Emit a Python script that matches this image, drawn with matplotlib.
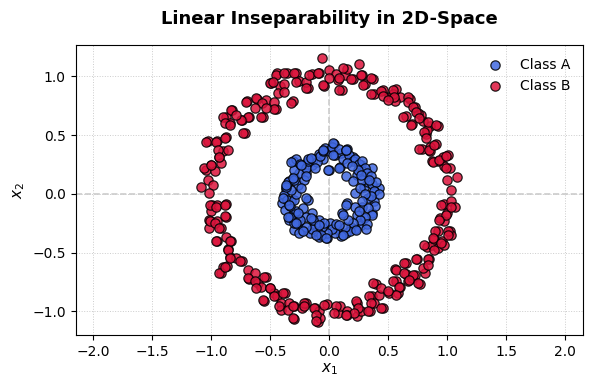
import matplotlib.pyplot as plt
import numpy as np

# Class A: inner ring
xa = [0.042, -0.038, 0.154, -0.086, -0.31, -0.28, -0.23, -0.15, -0.006, 0.09, 0.2, 0.266, 0.362,
      0.282, 0.234, 0.138, -0.198, -0.295, -0.34, -0.263, -0.215, -0.365, -0.384, -0.397, -0.327,
      -0.182, -0.375, -0.295, -0.343, -0.263, -0.295, -0.23, -0.166, -0.086, -0.022, -0.15, -0.086,
      0.01, 0.074, 0.138, 0.186, 0.266, 0.298, 0.234, 0.362, 0.282, 0.378, 0.33, 0.426, 0.378,
      0.298, 0.218, 0.202, 0.154, 0.106, 0.218,
      0.0, 0.05, -0.05, 0.1, 0.12, 0.17, 0.2, 0.22, 0.25, 0.28, 0.3, 0.32, 0.35, 0.33, 0.36, 0.4,
      0.38, 0.42, 0.35, 0.39, 0.33, 0.36, 0.3, 0.32, 0.26, 0.22, 0.18, 0.2, 0.13, 0.1, 0.05, 0.02,
      -0.02, -0.06, -0.1, -0.12, -0.15, -0.2, -0.2, -0.25, -0.28, -0.3, -0.33, -0.36, -0.3, -0.28,
      -0.32, -0.35, -0.3, -0.26, -0.3, -0.25, -0.2, -0.18, -0.14, -0.1, -0.08, -0.05, 0.02, 0.08,
      0.15, 0.24, 0.28, 0.26, 0.3, 0.28, 0.25, 0.16, 0.06, -0.04, -0.14, -0.22, -0.24, -0.2, -0.12,
      0.14, 0.19, 0.31, 0.34, 0.23, -0.37, -0.33, -0.26, -0.18, -0.07, 0.03, 0.12, 0.27, -0.35,
      -0.323, -0.238, -0.153, -0.055, 0.03, -0.013, -0.308, -0.365, -0.393, -0.337, -0.196, -0.267,
      -0.28, -0.224, -0.111, -0.026, -0.083, -0.153, 0.086, 0.114, 0.143, 0.086, 0.143]
ya = [0.425, 0.388, 0.38, 0.34, 0.275, 0.295, 0.246, 0.246, 0.204, 0.232, 0.317, 0.246, 0.218,
      0.19, 0.161, 0.153, 0.176, 0.147, 0.105, 0.076, 0.119, 0.04, -0.008, -0.079, -0.065,
      -0.051, -0.136, -0.164, -0.221, -0.255, -0.306, -0.306, -0.334, -0.363, -0.377, -0.164, -0.221,
      -0.249, -0.306, -0.334, -0.278, -0.263, -0.207, -0.178, -0.164, -0.108, -0.065, -0.037, 0.048,
      0.028, 0.062, 0.006, 0.105, -0.079, -0.164, -0.108,
      0.36, 0.33, 0.3, 0.35, 0.3, 0.33, 0.28, 0.3, 0.25, 0.28, 0.22, 0.18, 0.15, 0.1, 0.08, 0.1,
      0.02, 0.0, -0.02, -0.1, -0.12, -0.18, -0.2, -0.26, -0.22, -0.3, -0.32, -0.25, -0.28, -0.36,
      -0.33, -0.3, -0.33, -0.28, -0.32, -0.26, -0.3, -0.28, -0.2, -0.22, -0.15, -0.25, -0.1, -0.05,
      -0.05, 0.0, 0.03, 0.1, 0.12, 0.18, 0.2, 0.25, 0.22, 0.28, 0.3, 0.27, 0.32, 0.36, 0.4, 0.38,
      0.26, 0.2, 0.12, 0.05, 0.0, -0.06, -0.15, -0.22, -0.26, -0.25, -0.22, -0.12, 0.05, 0.15, 0.22,
      0.37, 0.24, -0.3, 0.12, -0.31, 0.06, -0.2, -0.33, 0.3, -0.35, 0.33, -0.35, 0.16, -0.2,
      0.274, 0.246, 0.303, 0.374, 0.43, 0.204, 0.133, 0.076, -0.037, -0.093, -0.037, -0.164,
      -0.249, -0.32, -0.348, -0.376, -0.263, -0.206, -0.263, -0.178, -0.093, 0.218, 0.374]

# Class B: outer ring
xb = [-0.06, 0.25, -0.439, -0.36, -0.28, -0.15, -0.09, 0.0, 0.06, 0.13, 0.15, 0.2, 0.28, 0.37,
      0.3, 0.11, -0.045, -0.18, -0.26, -0.42, -0.49, -0.31, -0.455, -0.535, -0.615, -0.695,
      -0.557, -0.68, -0.743, -0.82, -0.877, -0.84, -0.71, -0.877, -1.03, -0.95, -0.9, -0.935,
      -0.92, -1.0, -1.04, -0.967, -1.025, -0.983, -1.09, -1.015, -0.993, -0.95, -0.877, -0.999,
      -1.015, -0.95, -0.877, -1.015, -0.92, -0.95, -0.877, -0.83, -0.855, -0.845, -0.79, -0.743,
      -0.9, -0.87, -0.92, -0.685, -0.68, -0.63, -0.6, -0.58, -0.535, -0.503, -0.47, -0.44, -0.55,
      -0.407, -0.375, -0.343, -0.295, -0.295, -0.407, -0.23, -0.2, -0.118, -0.086, -0.096, -0.077,
      -0.022, 0.074, 0.09, 0.147, 0.154, 0.234, 0.266, 0.234, 0.346, 0.362, 0.426, 0.378, 0.458,
      0.394, 0.506, 0.57, 0.586, 0.602, 0.554, 0.65, 0.65, 0.666, 0.698, 0.73, 0.768, 0.746, 0.81,
      0.842, 0.826, 0.874, 0.89, 0.922, 0.954, 0.97, 0.922, 0.97, 0.938, 1.025, 1.034, 1.0, 0.97,
      1.034, 1.066, 1.034, 1.082, 1.0, 1.02, 0.97, 1.01, 0.96, 0.922, 0.874, 0.906, 0.858, 0.858,
      0.788, 0.922, 0.858, 0.82, 0.826, 0.794, 0.778, 0.704, 0.755, 0.723, 0.682, 0.65, 0.602,
      0.57, 0.554, 0.506, 0.458, 0.378, 0.538, -0.384, -0.006, 0.074,
      -0.45, -0.379, -0.295, -0.28, -0.196, -0.2, -0.168, -0.097, -0.055, -0.506, -0.478, -0.436,
      -0.379, -0.464, -0.464, -0.323, -0.619, -0.568, -0.534, -0.704, -0.633, -0.69, -0.577,
      -0.746, -0.831, -0.788, -0.902, -0.887, -0.845, -0.727, -1.042, -0.958, -0.887, -0.944,
      -0.859, -0.93, -1.057, -1.0,
      0.114, 0.086, 0.185, 0.27, 0.284, 0.355, 0.086, 0.355, 0.44, 0.453, 0.538, 0.552, 0.495,
      0.665, 0.665, 0.707, 0.736, 0.628, 0.693, 0.764, 0.834, 0.905, 0.806, 0.82, 0.764, 0.848,
      0.891, 0.876, 0.933, 0.99, 0.99,
      -1.014, -0.958, -0.887, -0.887, -1.014, -0.972, -0.93, -0.958, -0.845, -0.859, -0.845,
      -0.76, -0.93, -0.887, -0.69, -0.633, -0.619, -0.549, -0.506, -0.464, -0.394, -0.563,
      -0.422, -0.351, -0.309, -0.309, -0.21, -0.21, -0.125, -0.111, -0.111, -0.041,
      0.947, 1.032, 0.99, 0.933, 1.003, 1.003, 0.899, 0.876, 0.806, 0.891, 0.947, 0.834, 0.736,
      0.792, 0.834, 0.637, 0.566, 0.637, 0.707, 0.679, 0.749, 0.538, 0.594, 0.566, 0.368, 0.44,
      0.495, 0.34, 0.355, 0.44, 0.326, 0.228, 0.241, 0.213, 0.143, 0.058, 0.044]
yb = [1.153, 1.105, 1.025, 1.03, 1.025, 1.02, 1.03, 1.05, 1.02, 1.01, 1.06, 0.975, 1.01, 0.98,
      0.93, 0.88, 0.92, 0.9, 0.955, 0.92, 0.94, 0.785, 0.72, 0.8, 0.81, 0.785,
      0.65, 0.657, 0.63, 0.714, 0.657, 0.6, 0.516, 0.48, 0.445, 0.445, 0.36, 0.317,
      0.26, 0.246, 0.204, 0.19, 0.119, 0.076, 0.062, 0.011, -0.093, -0.093, -0.085, -0.142,
      -0.221, -0.235, -0.193, -0.292, -0.292, -0.405, -0.368, -0.397, -0.47, -0.533, -0.547, -0.575,
      -0.618, -0.612, -0.674, -0.646, -0.725, -0.669, -0.754, -0.788, -0.703, -0.799, -0.844, -0.867, -0.915,
      -0.93, -0.844, -0.93, -0.952, -1.065, -0.986, -0.972, -0.93, -0.972, -1.0, -1.093, -1.057,
      -0.935, -1.014, -0.952, -1.0, -1.028, -1.042, -1.0, -0.93, -1.0, -0.872, -0.858, -0.93, -0.972,
      -0.765, -0.839, -0.745, -0.844, -0.788, -0.64, -0.589, -0.68, -0.745, -0.717, -0.688, -0.765, -0.555, -0.674,
      -0.555, -0.448, -0.433, -0.385, -0.462, -0.397, -0.433, -0.312, -0.227, -0.207, -0.32, -0.348, -0.164, -0.085,
      -0.065, -0.108, 0.034, 0.142, 0.119, 0.218, 0.238, 0.331, 0.317, 0.275, 0.275, 0.425, 0.402, 0.36,
      0.38, 0.578, 0.578, 0.51, 0.544, 0.615, 0.671, 0.595, 0.69, 0.742, 0.805, 0.663, 0.822,
      0.89, 0.785, 0.827, 0.884, 0.85, 0.85, 0.935, 0.983, 0.969,
      1.011, 1.025, 1.025, 0.954, 0.954, 0.898, 1.011, 1.025, 0.926, 0.94, 0.954, 0.855,
      0.869, 0.784, 0.72, 0.776, 0.813, 0.776, 0.728, 0.784, 0.728, 0.657, 0.657,
      0.629, 0.714, 0.671, 0.657, 0.6, 0.586, 0.521, 0.444, 0.444, 0.473, 0.374,
      0.374, 0.317, 0.218, 0.246,
      1.068, 0.983, 0.974, 1.011, 0.926, 0.983, 0.884, 0.85, 0.878, 0.833, 0.884, 0.827, 0.799,
      0.827, 0.784, 0.742, 0.699, 0.657, 0.586, 0.643, 0.614, 0.586, 0.529, 0.473, 0.38, 0.374,
      0.416, 0.274, 0.289, 0.323, 0.218,
      -0.093, -0.108, -0.093, -0.187, -0.235, -0.249, -0.291, -0.405, -0.405, -0.476, -0.546,
      -0.575, -0.674, -0.618, -0.716, -0.745, -0.801, -0.703, -0.801, -0.872, -0.844, -0.9,
      -0.957, -0.986, -1.056, -0.957, -0.929, -0.957, -0.971, -1.028, -1.085, -0.943,
      -0.093, -0.108, -0.178, -0.221, -0.32, -0.348, -0.312, -0.376, -0.433, -0.476, -0.419, -0.555, -0.555,
      -0.631, -0.603, -0.589, -0.646, -0.674, -0.688, -0.731, -0.759, -0.745, -0.788, -0.858, -0.759, -0.801,
      -0.83, -0.872, -0.929, -0.971, -1.0, -0.915, -0.971, -1.014, -1.028, -0.957, -1.014]

fig, ax = plt.subplots(figsize=(5.9, 3.9), dpi=100)

ax.scatter(xa, ya, s=45, color='#4169E1', edgecolor='black', linewidth=0.9, alpha=0.85, label='Class A', zorder=3)
ax.scatter(xb, yb, s=45, color='#DC143C', edgecolor='black', linewidth=0.9, alpha=0.85, label='Class B', zorder=3)

# Eixos de referência
ax.axhline(0, color='gray', linestyle='--', linewidth=1.2, alpha=0.4, zorder=1)
ax.axvline(0, color='gray', linestyle='--', linewidth=1.2, alpha=0.4, zorder=1)
ax.grid(True, linestyle=':', linewidth=0.7, color='#cccccc')

ax.set_xlim(-2.15, 2.15)
ax.set_ylim(-1.2, 1.263)
ax.set_xticks(np.arange(-2.0, 2.01, 0.5))
ax.set_yticks(np.arange(-1.0, 1.01, 0.5))

ax.set_title('Linear Inseparability in 2D-Space', fontsize=13, fontweight='bold', pad=15)
ax.set_xlabel('$x_1$', fontsize=11, labelpad=2)
ax.set_ylabel('$x_2$', fontsize=11)
ax.legend(loc='upper right', frameon=False, fontsize=10)

fig.subplots_adjust(left=0.128, right=0.988, top=0.884, bottom=0.141)
fig.savefig('out.png', dpi=100)
